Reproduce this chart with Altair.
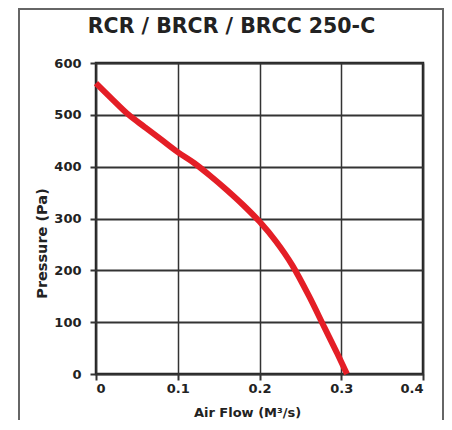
import altair as alt
import pandas as pd

# Data
flow = [0, 0.02, 0.04, 0.06, 0.08, 0.1, 0.12, 0.14, 0.16, 0.18, 0.2, 0.22, 0.24, 0.26, 0.28, 0.295, 0.307]
pressure = [561, 530, 500, 476, 452, 428, 407, 382, 355, 326, 294, 256, 210, 152, 88, 40, 0]

x_ticks = [0, 0.1, 0.2, 0.3, 0.4]
y_ticks = [0, 100, 200, 300, 400, 500, 600]

title_text = "RCR / BRCR / BRCC 250-C"
x_title = "Air Flow (M³/s)"
y_title = "Pressure (Pa)"

FONT = "DejaVu Sans"
W, H = 327, 311

df = pd.DataFrame({"flow": flow, "pressure": pressure})
one = pd.DataFrame({"a": [0]})

curve = alt.Chart(df).mark_line(
    color="#e41e26", strokeWidth=6, interpolate="monotone", strokeCap="butt"
).encode(
    x=alt.X("flow:Q",
            scale=alt.Scale(domain=[0, 0.4], nice=False),
            axis=alt.Axis(values=x_ticks, title=x_title,
                          labelExpr="datum.value == 0 ? '0' : format(datum.value, '.1f')",
                          titleX=151, titleY=42, titleBaseline="alphabetic",
                          gridWidth=1.5, labelPadding=2)),
    y=alt.Y("pressure:Q",
            scale=alt.Scale(domain=[0, 600], nice=False),
            axis=alt.Axis(values=y_ticks, title=y_title, titleFontSize=14.5,
                          titleX=-50, titleY=180, titleBaseline="alphabetic",
                          titleAngle=270, gridWidth=2, labelPadding=9)),
)

frame_color = "#666666"
frame_left = alt.Chart(one).mark_rule(color=frame_color, strokeWidth=2).encode(
    x=alt.value(-77), y=alt.value(-54), y2=alt.value(420))
frame_top = alt.Chart(one).mark_rule(color=frame_color, strokeWidth=2).encode(
    x=alt.value(-78), x2=alt.value(348), y=alt.value(-54))
frame_right = alt.Chart(one).mark_rule(color=frame_color, strokeWidth=2).encode(
    x=alt.value(347), y=alt.value(-54), y2=alt.value(420))

title = alt.Chart(one).mark_text(
    text=title_text, font=FONT, fontSize=20.5, fontWeight="bold",
    align="center", baseline="alphabetic", color="#222222"
).encode(x=alt.value(135.5), y=alt.value(-30))

chart = alt.layer(curve, frame_left, frame_top, frame_right, title).properties(
    width=W, height=H,
    autosize=alt.AutoSizeParams(type="none"),
    padding={"left": 88, "top": 55, "right": 21, "bottom": 46},
    background="white",
).configure_view(
    stroke="#222222", strokeWidth=2.5
).configure_axis(
    grid=True, gridColor="#333333", domain=False,
    tickColor="#333333", tickWidth=2, tickSize=6,
    labelFont=FONT, labelFontWeight="bold", labelFontSize=13, labelColor="#222222",
    titleFont=FONT, titleFontWeight="bold", titleFontSize=13, titleColor="#222222",
)

chart.save("out.html", embed_options={"renderer": "svg", "actions": False})
